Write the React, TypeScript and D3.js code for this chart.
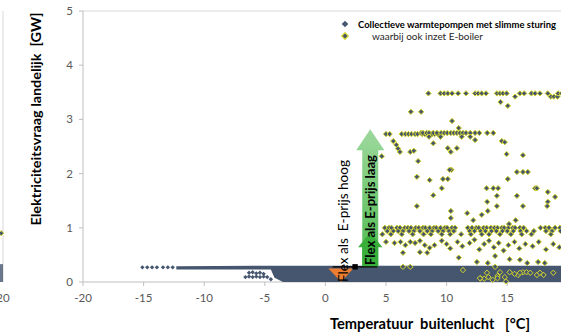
import React from 'react';
import * as d3 from 'd3';

const xTicks = [-20, -15, -10, -5, 0, 5, 10, 15, 20];
const yTicks = [0, 1, 2, 3, 4, 5];
const seriesNames = ['Collectieve warmtepompen met slimme sturing', 'waarbij ook inzet E-boiler'];
const xTitle = 'Temperatuur  buitenlucht   [°C]';
const yTitle = 'Elektriciteitsvraag landelijk  [GW]';
const flexHigh = 'Flex als  E-prijs hoog';
const flexLow = 'Flex als E-prijs laag';

// envelope of the dense cloud of blue points (temperature, low, high in GW)
const bandTemps = [-12.3, -4.5, -4.2, -3.5, -1, 20];
const bandHigh = [0.29, 0.3, 0.3, 0.3, 0.3, 0.3];
const bandLow = [0.23, 0.23, 0.08, 0, 0, 0];

// sparse blue points (temperature, GW)
const bluePoints: [number, number][] = [
  [-15.1, 0.27], [-14.7, 0.27], [-14.3, 0.27], [-13.9, 0.27], [-13.4, 0.27], [-13.0, 0.27], [-12.6, 0.27],
  [-6.3, 0.17], [-6.0, 0.18], [-5.7, 0.16], [-5.4, 0.17], [-5.1, 0.15],
  [-6.6, 0.09], [-6.3, 0.1], [-6.0, 0.09], [-5.7, 0.1], [-5.4, 0.09], [-5.1, 0.1], [-4.8, 0.09], [-4.5, 0.05],
];

// points with E-boiler (temperature, GW)
const boilerPoints: [number, number][] = [
  // top row
  [8.5, 3.48], [9.5, 3.48], [9.8, 3.48], [10.1, 3.48], [10.45, 3.48], [10.95, 3.48], [11.6, 3.48], [12.35, 3.48],
  [12.6, 3.48], [12.9, 3.48], [13.25, 3.48], [14.15, 3.48], [14.4, 3.48], [14.65, 3.48], [14.95, 3.48], [15.65, 3.42],
  [16.05, 3.48], [16.4, 3.48], [17.0, 3.48], [17.3, 3.48], [17.7, 3.48], [18.35, 3.48], [18.6, 3.42], [18.85, 3.42],
  [19.15, 3.42], [19.2, 3.48], [19.5, 3.48],
  [14.45, 3.32], [15.05, 3.25], [7.05, 3.14], [7.9, 3.14], [10.45, 2.97], [11.0, 2.84],
  // 2.7 row
  [5.0, 2.73], [5.3, 2.73], [6.3, 2.73], [6.6, 2.73], [6.85, 2.73], [7.1, 2.73], [7.4, 2.73], [7.6, 2.73],
  [8.0, 2.73], [8.2, 2.73], [8.5, 2.73], [8.8, 2.73], [9.0, 2.73], [9.3, 2.73], [7.9, 2.75], [8.05, 2.75],
  [8.35, 2.75], [8.55, 2.75], [8.9, 2.75], [9.2, 2.75], [9.55, 2.75], [9.8, 2.75], [10.05, 2.75], [10.35, 2.75],
  [10.6, 2.75], [10.85, 2.75], [11.1, 2.75], [11.35, 2.75], [11.6, 2.75], [11.95, 2.75], [12.35, 2.75], [12.7, 2.75],
  [13.35, 2.75], [13.85, 2.75], [8.55, 2.68], [9.5, 2.68], [11.25, 2.68], [11.95, 2.68], [12.35, 2.62],
  // between rows
  [5.6, 2.6], [5.85, 2.53], [6.0, 2.46], [6.15, 2.4], [4.65, 2.32], [7.0, 2.4], [7.3, 2.42], [7.65, 2.23],
  [8.9, 2.56], [10.1, 2.47], [10.35, 2.4], [10.85, 2.47], [14.55, 2.6], [14.8, 2.58], [14.95, 2.36], [16.3, 2.34],
  [10.4, 2.07], [10.25, 2.07], [15.8, 2.03], [16.3, 2.03], [16.7, 2.03], [7.55, 1.94], [8.6, 1.88], [9.7, 1.9],
  [10.1, 1.9], [15.05, 1.9], [9.6, 1.73], [13.3, 1.73], [13.85, 1.73], [14.25, 1.73], [17.3, 1.73], [17.45, 1.73],
  [8.9, 1.6], [14.15, 1.59], [15.8, 1.59], [18.35, 1.66], [18.95, 1.57], [13.35, 1.48], [18.35, 1.48], [18.3, 1.4],
  [16.3, 1.4], [14.15, 1.4], [7.55, 1.4], [10.35, 1.31], [10.35, 1.18], [11.7, 1.27], [12.2, 1.14], [12.9, 1.24],
  [13.4, 1.31], [15.7, 1.14], [15.15, 1.07],
  // 1.0 rows
  [4.9, 1.0], [5.25, 1.0], [5.45, 1.0], [5.9, 1.0], [6.15, 1.0], [6.55, 1.0], [6.8, 1.0], [7.05, 1.0], [7.45, 1.0],
  [7.7, 1.0], [8.05, 1.0], [8.25, 1.0], [8.6, 1.0], [8.95, 1.0], [9.15, 1.0], [9.5, 1.0], [9.85, 1.0], [10.05, 1.0],
  [10.45, 1.0], [10.7, 1.0], [11.75, 1.0], [12.1, 1.0], [12.45, 1.0], [12.65, 1.0], [13.05, 1.0], [13.3, 1.0],
  [13.65, 1.0], [13.95, 1.0], [14.2, 1.0], [14.55, 1.0], [14.75, 1.0], [15.1, 1.0], [15.45, 1.0], [15.65, 1.0],
  [16.05, 1.0], [16.35, 1.0], [17.75, 1.0], [18.15, 1.0], [18.45, 1.0], [18.95, 1.0], [19.35, 1.0],
  [5.1, 0.94], [5.6, 0.94], [6.0, 0.94], [6.4, 0.94], [6.9, 0.94], [7.3, 0.94], [7.8, 0.94], [8.4, 0.94],
  [8.8, 0.94], [9.3, 0.94], [9.7, 0.94], [10.2, 0.94], [10.6, 0.94], [11.9, 0.94], [12.3, 0.94], [12.8, 0.94],
  [13.2, 0.94], [13.7, 0.94], [14.1, 0.94], [14.6, 0.94], [15.0, 0.94], [15.5, 0.94], [16.1, 0.94], [16.6, 0.94],
  [17.2, 0.94], [18.2, 0.94], [18.7, 0.94], [19.4, 0.94],
  [4.7, 0.88], [5.4, 0.88], [6.3, 0.88], [7.2, 0.88], [8.1, 0.88], [8.7, 0.88], [9.6, 0.88], [10.3, 0.88],
  [11.2, 0.88], [12.0, 0.88], [12.9, 0.88], [13.5, 0.88], [14.4, 0.88], [15.3, 0.88], [16.2, 0.88], [17.0, 0.88], [18.6, 0.88],
  // lower scatter
  [5.0, 0.74], [5.7, 0.72], [6.2, 0.74], [6.6, 0.68], [7.0, 0.74], [7.4, 0.72], [7.8, 0.76], [8.2, 0.68],
  [8.6, 0.63], [9.0, 0.68], [7.8, 0.55], [8.4, 0.54], [9.6, 0.76], [10.0, 0.7], [10.3, 0.62], [10.9, 0.74],
  [11.3, 0.66], [11.9, 0.72], [12.3, 0.78], [12.7, 0.6], [13.1, 0.7], [13.5, 0.76], [13.9, 0.64], [14.3, 0.72],
  [14.7, 0.58], [15.1, 0.68], [15.6, 0.74], [16.0, 0.62], [16.5, 0.7], [17.1, 0.66], [17.6, 0.74], [18.2, 0.6],
  [18.8, 0.7], [19.3, 0.64], [6.4, 0.54], [12.5, 0.37], [13.4, 0.35], [15.2, 0.42], [16.05, 0.41], [16.65, 0.35],
  [17.55, 0.37], [18.1, 0.35], [11.0, 0.45], [14.0, 0.48],
  // inside the dense band
  [6.4, 0.28], [7.0, 0.28], [11.35, 0.22], [12.8, 0.07], [13.1, 0.06], [13.8, 0.04], [13.33, 0.17], [14.0, 0.28],
  [14.2, 0.11], [14.4, 0.18], [14.2, 0.07], [14.8, 0.09], [14.9, 0.01], [15.2, 0.18], [15.9, 0.13], [16.3, 0.18],
  [16.6, 0.18], [16.9, 0.17], [17.45, 0.13], [17.7, 0.17], [18.0, 0.13], [18.8, 0.17], [12.75, 0.07], [13.45, 0.09],
  [15.6, 0.15], [16.05, 0.17],
];

// neighbouring chart (only its right edge is visible)
const nbBand: [number, number, number][] = [[19.4, 0.0, 0.33], [20, 0.0, 0.33]];
const nbBoiler: [number, number][] = [[19.85, 0.9]];

const BLUE = '#46566f';
const YELLOW = '#d8d82a';
const FONT = 'Lato, "Open Sans", sans-serif';

const diamond = (cx: number, cy: number, r: number) =>
  `M${cx},${cy - r}L${cx + r},${cy}L${cx},${cy + r}L${cx - r},${cy}Z`;

export default function App() {
  const W = 561, H = 333;
  const x = d3.scaleLinear().domain([-20, 20]).range([83, 567.8]);
  const y = d3.scaleLinear().domain([0, 5]).range([282, 11]);
  const xNb = d3.scaleLinear().domain([-20, 20]).range([3 - 484.8, 3]);

  const bandData = bandTemps.map((t, i) => ({ t, lo: bandLow[i], hi: bandHigh[i] }));
  const band = d3.area<{ t: number; lo: number; hi: number }>()
    .x(d => x(d.t)).y0(d => y(d.lo)).y1(d => y(d.hi))(bandData) as string;
  const nbArea = d3.area<[number, number, number]>()
    .x(d => xNb(d[0])).y0(d => y(d[1])).y1(d => y(d[2]))(nbBand) as string;

  // annotation geometry (in data units)
  const arrowX = 3.7;
  const shaftHalf = 0.66, headHalf = 1.16;
  const bigArrow = [
    [arrowX - shaftHalf, 0.28], [arrowX - shaftHalf, 2.43], [arrowX - headHalf, 2.43], [arrowX, 2.82],
    [arrowX + headHalf, 2.43], [arrowX + shaftHalf, 2.43], [arrowX + shaftHalf, 0.28],
  ];
  const smallArrow = [
    [arrowX - shaftHalf, 0.28], [arrowX - shaftHalf, 0.64], [arrowX - 1.0, 0.64], [arrowX, 0.92],
    [arrowX + 1.0, 0.64], [arrowX + shaftHalf, 0.64], [arrowX + shaftHalf, 0.28],
  ];
  const orangeTri = [[0.25, 0.25], [2.3, 0.25], [1.3, 0.0]];
  const poly = (pts: number[][]) => pts.map(p => `${x(p[0])},${y(p[1])}`).join(' ');

  return (
    <div style={{ position: 'fixed', left: 0, top: 0, width: W, height: H, background: '#fff' }}>
      <svg width={W} height={H} style={{ display: 'block' }} fontFamily={FONT}>
        <defs>
          <linearGradient id="gArrow" x1="0" y1="0" x2="0" y2="1">
            <stop offset="0" stopColor="#9dd89d" />
            <stop offset="1" stopColor="#4dba4d" />
          </linearGradient>
        </defs>
        <rect width={W} height={H} fill="#fff" />

        {/* neighbouring chart edge */}
        <line x1={xNb(20)} x2={xNb(20)} y1={y(5)} y2={y(0)} stroke="#d9d9d9" />
        <path d={nbArea} fill={BLUE} opacity={0.8} />
        {nbBoiler.map((p, i) => (
          <path key={i} d={diamond(xNb(p[0]), y(p[1]), 2.6)} fill={BLUE} stroke={YELLOW} strokeWidth={1} />
        ))}
        <text x={xNb(20)} y={302} textAnchor="middle" fontSize={11.5} fill="#595959">20</text>

        {/* axes */}
        <line x1={x(-20)} x2={W} y1={y(5)} y2={y(5)} stroke="#d9d9d9" />
        <line x1={x(-20)} x2={x(-20)} y1={y(5)} y2={y(0)} stroke="#bfbfbf" />
        <line x1={x(-20)} x2={W} y1={y(0)} y2={y(0)} stroke="#bfbfbf" />
        {xTicks.map(t => (
          <g key={t}>
            <line x1={x(t)} x2={x(t)} y1={y(0)} y2={y(0) + 4} stroke="#bfbfbf" />
            {x(t) < W - 6 && (
              <text x={x(t)} y={302} textAnchor="middle" fontSize={11.5} fill="#595959">{t}</text>
            )}
          </g>
        ))}
        {yTicks.map(v => (
          <g key={v}>
            <line x1={x(-20) - 4} x2={x(-20)} y1={y(v)} y2={y(v)} stroke="#bfbfbf" />
            <text x={73} y={y(v)} dy="0.35em" textAnchor="end" fontSize={11.5} fill="#595959">{v}</text>
          </g>
        ))}

        {/* data */}
        <path d={band} fill={BLUE} />
        {bluePoints.map((p, i) => (
          <path key={'b' + i} d={diamond(x(p[0]), y(p[1]), 2.2)} fill={BLUE} />
        ))}
        {boilerPoints.map((p, i) => (
          <path key={'y' + i} d={diamond(x(p[0]), y(p[1]), 2.7)} fill={BLUE} stroke={YELLOW} strokeWidth={1} />
        ))}

        {/* annotations */}
        <polygon points={poly(bigArrow)} fill="url(#gArrow)" />
        <polygon points={poly(smallArrow)} fill="#3aae3a" />
        <polygon points={poly(orangeTri)} fill="#ed7d31" />
        <line x1={x(0.6)} x2={x(4.3)} y1={y(0.28)} y2={y(0.28)} stroke="#000" strokeWidth={1.3} />
        <rect x={x(2.45) - 2.7} y={y(0.28) - 2.7} width={5.4} height={5.4} fill="#000" />
        <text transform={`translate(${x(arrowX)},${210}) rotate(-90)`} textAnchor="middle" dominantBaseline="central"
          fontSize={12.5} fontWeight={700} fill="#000" textLength={110} lengthAdjust="spacingAndGlyphs">{flexLow}</text>
        <text transform={`translate(${343},${221}) rotate(-90)`} textAnchor="middle" dominantBaseline="central"
          fontSize={12.5} fontWeight={400} fill="#000" textLength={122} lengthAdjust="spacingAndGlyphs"
          style={{ whiteSpace: 'pre' }}>{flexHigh}</text>

        {/* titles */}
        <text transform={`translate(36,119) rotate(-90)`} textAnchor="middle" dominantBaseline="central"
          fontSize={13} fontWeight={700} fill="#000" textLength={213} lengthAdjust="spacingAndGlyphs"
          style={{ whiteSpace: 'pre' }}>{yTitle}</text>
        <text x={330} y={329} fontSize={16} fontWeight={700} fill="#000" textLength={200} lengthAdjust="spacingAndGlyphs"
          style={{ whiteSpace: 'pre' }}>{xTitle}</text>

        {/* legend */}
        <path d={diamond(345, 24, 3.3)} fill={BLUE} />
        <text x={358} y={24} dominantBaseline="central" fontSize={9.2} fontWeight={700} fill="#000"
          textLength={198} lengthAdjust="spacingAndGlyphs">{seriesNames[0]}</text>
        <path d={diamond(345, 36, 3.3)} fill={BLUE} stroke={YELLOW} strokeWidth={1.2} />
        <text x={372} y={36} dominantBaseline="central" fontSize={10} fill="#262626"
          textLength={111} lengthAdjust="spacingAndGlyphs">{seriesNames[1]}</text>
      </svg>
    </div>
  );
}
